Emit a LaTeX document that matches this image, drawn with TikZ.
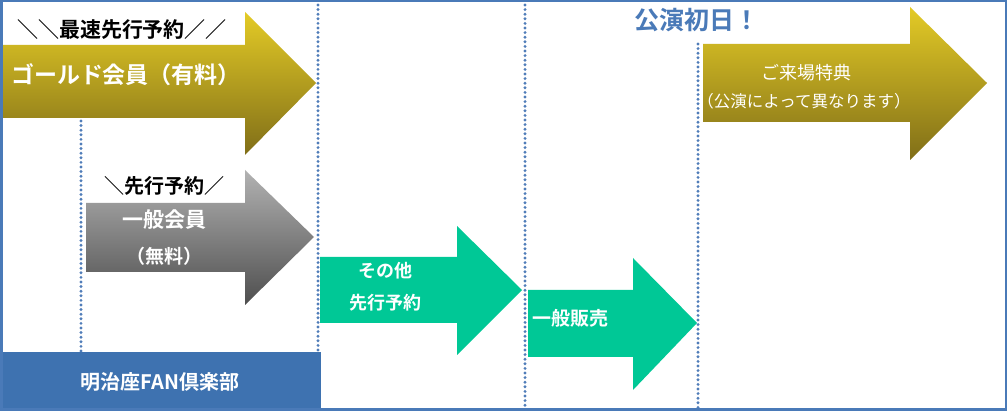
\documentclass[tikz,border=0pt]{standalone}
\usepackage{fontspec}
\newfontfamily\jp[BoldFont={Noto Sans CJK JP Bold}]{Noto Sans CJK JP}
\definecolor{frameblue}{RGB}{74,122,184}
\definecolor{boxblue}{RGB}{62,114,176}
\definecolor{dotblue}{RGB}{80,125,185}
\definecolor{mint}{RGB}{0,200,150}
\definecolor{goldtop}{RGB}{228,203,38}
\definecolor{goldbot}{RGB}{128,110,24}
\definecolor{graytop}{RGB}{178,178,178}
\definecolor{graybot}{RGB}{78,78,78}
\tikzset{
  dotmark/.style={fill=dotblue},
  goldfill/.style={top color=goldtop, bottom color=goldbot, draw=none},
  grayfill/.style={top color=graytop, bottom color=graybot, draw=none},
  mintfill/.style={fill=mint, draw=none},
  lbl/.style={font=\jp\bfseries, inner sep=0pt, anchor=center},
}
\begin{document}
\begin{tikzpicture}[x=1pt,y=-1pt]
\useasboundingbox (0,0) rectangle (1007,411);
\fill[white] (0,0) rectangle (1007,411);
% dotted time lines
\foreach \x/\ya/\n in {81/121/50, 318/5/75, 525/5/87, 698/44/79}{
  \foreach \i in {0,...,\n}{
    \fill[dotmark] (\x,{\ya+4.6*\i}) circle[radius=1.6pt];
  }
}
% gold arrow 1
\path[goldfill] (2,45) -- (245,45) -- (245,12) -- (316,83) -- (245,155) -- (245,118) -- (2,118) -- cycle;
% gray arrow
\path[grayfill] (86,203) -- (245,203) -- (245,170) -- (314,237) -- (245,305) -- (245,272) -- (86,272) -- cycle;
% mint arrow 1
\path[mintfill] (320,257) -- (457,257) -- (457,226) -- (522,290) -- (457,355) -- (457,323) -- (320,323) -- cycle;
% mint arrow 2
\path[mintfill] (528,290) -- (633,290) -- (633,258) -- (697,323) -- (633,390) -- (633,357) -- (528,357) -- cycle;
% gold arrow 2
\path[goldfill] (703,44) -- (910,44) -- (910,7) -- (987,83) -- (910,160) -- (910,122) -- (703,122) -- cycle;
% bottom blue box
\fill[boxblue] (0,352) rectangle (321,411);
% frame
\draw[frameblue, line width=2.5pt] (1.25,1.25) rectangle (1005.75,409.75);
% labels
\node[lbl, font=\jp\bfseries\fontsize{21}{24}\selectfont] (t1) at (122,30) {＼＼最速先行予約／／};
\node[lbl, white, font=\jp\bfseries\fontsize{23}{26}\selectfont] (t2) at (126,75) {ゴールド会員（有料）};
\node[lbl, font=\jp\bfseries\fontsize{20}{24}\selectfont] (t3) at (164,186) {＼先行予約／};
\node[lbl, white, font=\jp\bfseries\fontsize{21}{24}\selectfont] (t4) at (164,220) {一般会員};
\node[lbl, white, font=\jp\bfseries\fontsize{19}{24}\selectfont] (t5) at (164,256) {（無料）};
\node[lbl, white, font=\jp\bfseries\fontsize{18}{22}\selectfont] (t6) at (385,271) {その他};
\node[lbl, white, font=\jp\bfseries\fontsize{18}{22}\selectfont] (t7) at (385,303) {先行予約};
\node[lbl, white, font=\jp\bfseries\fontsize{19}{22}\selectfont] (t8) at (570,318) {一般販売};
\node[lbl, white, font=\jp\fontsize{18}{22}\selectfont] (t9) at (806,73) {ご来場特典};
\node[lbl, white, font=\jp\fontsize{16.5}{20}\selectfont] (t10) at (804,101) {（公演によって異なります）};
\node[lbl, frameblue, font=\jp\bfseries\fontsize{25}{28}\selectfont] (t11) at (697,20) {公演初日！};
\node[lbl, white, font=\jp\bfseries\fontsize{20}{24}\selectfont] (t12) at (160,382) {明治座FAN倶楽部};
\end{tikzpicture}
\end{document}
